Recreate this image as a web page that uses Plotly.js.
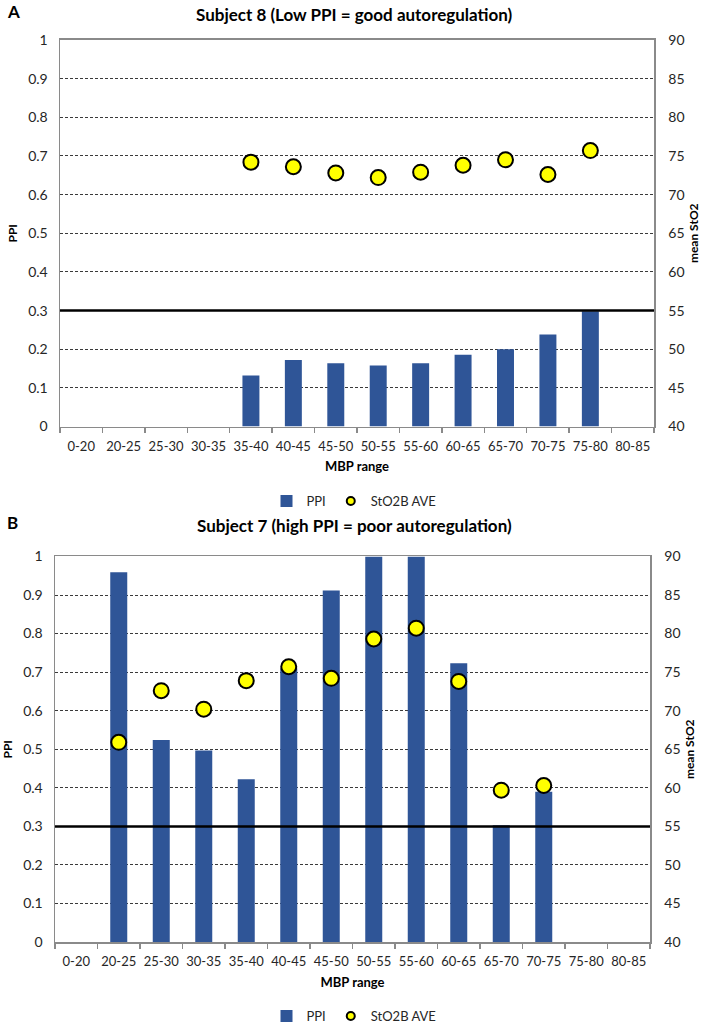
<!DOCTYPE html>
<html>
<head>
<meta charset="utf-8">
<script src="https://cdn.plot.ly/plotly-3.0.1.min.js"></script>
<style>html,body{margin:0;padding:0;background:#fff;}#chart{width:708px;height:1031px;}</style>
</head>
<body>
<div id="chart"></div>
<script>
// ---- data ----
const categories = ["0-20","20-25","25-30","30-35","35-40","40-45","45-50","50-55","55-60","60-65","65-70","70-75","75-80","80-85"];

const titleA = "Subject 8 (Low PPI = good autoregulation)";
const titleB = "Subject 7 (high PPI = poor autoregulation)";

const ppiA   = [null, null, null, null, 0.132, 0.172, 0.164, 0.158, 0.164, 0.186, 0.200, 0.238, 0.298, null];
const sto2A  = [null, null, null, null, 74.2, 73.6, 72.8, 72.2, 72.9, 73.8, 74.5, 72.6, 75.7, null];

const ppiB   = [null, 0.959, 0.524, 0.497, 0.422, 0.710, 0.912, 1.0, 1.0, 0.723, 0.303, 0.390, null, null];
const sto2B  = [null, 65.9, 72.6, 70.2, 73.9, 75.7, 74.2, 79.3, 80.7, 73.8, 59.7, 60.3, null, null];

const threshold = 0.3;
const seriesNames = ["PPI", "StO2B AVE"];
const ppiTicks = [0,0.1,0.2,0.3,0.4,0.5,0.6,0.7,0.8,0.9,1];
const ppiTickText = ["0","0.1","0.2","0.3","0.4","0.5","0.6","0.7","0.8","0.9","1"];
const sto2Ticks = [40,45,50,55,60,65,70,75,80,85,90];

// ---- style ----
const FONT = "Lato, 'Open Sans', sans-serif";
const BLUE = "#2F5597";
const YELLOW = "#FFFF00";
const AXC = "#8a8a8a";
const TXT = "#262626";
const W = 708, H = 1031;

function bars(y, xa, ya, lg){
  return {type:"bar", x:categories, y:y, name:seriesNames[0], xaxis:xa, yaxis:ya,
    marker:{color:BLUE}, width:0.4, showlegend:false, legend:lg, hoverinfo:"x+y"};
}
function dots(y, xa, ya, lg){
  return {type:"scatter", mode:"markers", x:categories, y:y, name:seriesNames[1], xaxis:xa, yaxis:ya,
    marker:{color:YELLOW, size:15, line:{color:"#000", width:2}}, showlegend:false, legend:lg, cliponaxis:false};
}
function legBar(lg, xa, ya){
  return {type:"bar", x:[null], y:[null], name:seriesNames[0], xaxis:xa, yaxis:ya, marker:{color:BLUE}, legend:lg, showlegend:true};
}
function legDot(lg, xa, ya){
  return {type:"scatter", mode:"markers", x:[null], y:[null], name:seriesNames[1], xaxis:xa, yaxis:ya,
    marker:{color:YELLOW, size:8, line:{color:"#000", width:2}}, legend:lg, showlegend:true};
}

const traces = [
  bars(ppiA, "x", "y", "legend"), dots(sto2A, "x", "y2", "legend"),
  legBar("legend","x","y"), legDot("legend","x","y2"),
  bars(ppiB, "x2", "y3", "legend2"), dots(sto2B, "x2", "y4", "legend2"),
  legBar("legend2","x2","y3"), legDot("legend2","x2","y4")
];

function xAxis(dom, anchor){
  return {domain:dom, anchor:anchor, type:"category", categoryarray:categories,
    range:[-0.5, categories.length-0.5], fixedrange:true, tickangle:0,
    showline:true, linecolor:AXC, linewidth:1.5, mirror:true,
    ticks:"outside", tickson:"boundaries", ticklen:5, tickcolor:AXC, tickwidth:1.5,
    ticklabelstandoff:7, showgrid:false, zeroline:false,
    tickfont:{family:FONT, size:13, color:TXT},
    title:{text:"MBP range", standoff:9, font:{family:FONT, size:13, color:"#000", weight:"bold"}}};
}
function yLeft(dom, anchor){
  return {domain:dom, anchor:anchor, range:[0,1], tickvals:ppiTicks, ticktext:ppiTickText,
    showline:true, linecolor:AXC, linewidth:1.5, ticks:"", zeroline:false,
    showgrid:true, gridcolor:"#3a3a3a", gridwidth:1, griddash:"3px,2px",
    ticklabelstandoff:8, tickfont:{family:FONT, size:14, color:TXT},
    title:{text:"PPI", standoff:8, font:{family:FONT, size:12, color:"#000", weight:"bold"}}};
}
function yRight(overlay, anchor){
  return {overlaying:overlay, anchor:anchor, side:"right", range:[40,90], tickvals:sto2Ticks,
    showline:true, linecolor:AXC, linewidth:1.5, ticks:"", zeroline:false, showgrid:false,
    ticklabelstandoff:10, tickfont:{family:FONT, size:14, color:TXT},
    title:{text:"mean StO2", standoff:6, font:{family:FONT, size:12, color:"#000", weight:"bold"}}};
}

const px = v => v / W;
const py = v => 1 - v / H;

const legendBase = {orientation:"h", xref:"paper", yref:"paper", x:0.5, xanchor:"center", yanchor:"middle",
  font:{family:FONT, size:13, color:TXT}, itemwidth:30,
  tracegroupgap:0, bgcolor:"rgba(0,0,0,0)"};

const layout = {
  width:W, height:H, margin:{l:0,r:0,t:0,b:0}, paper_bgcolor:"#fff", plot_bgcolor:"#fff",
  bargap:0.6, showlegend:true,
  xaxis: xAxis([px(60), px(654)], "y"),
  yaxis: yLeft([py(427), py(40)], "x"),
  yaxis2: yRight("y", "x"),
  xaxis2: xAxis([px(55), px(650)], "y3"),
  yaxis3: yLeft([py(943), py(557)], "x2"),
  yaxis4: yRight("y3", "x2"),
  legend: Object.assign({}, legendBase, {y:py(501)}),
  legend2: Object.assign({}, legendBase, {y:py(1017)}),
  shapes:[
    {type:"line", xref:"x domain", yref:"y", x0:0, x1:1, y0:threshold, y1:threshold, line:{color:"#000", width:2.5}},
    {type:"line", xref:"x2 domain", yref:"y3", x0:0, x1:1, y0:threshold, y1:threshold, line:{color:"#000", width:2.5}}
  ],
  annotations:[
    {text:"<b>"+titleA+"</b>", xref:"paper", yref:"paper", x:0.5, y:py(15), showarrow:false, xanchor:"center", yanchor:"middle", font:{family:FONT, size:17, color:"#000"}},
    {text:"<b>"+titleB+"</b>", xref:"paper", yref:"paper", x:0.5, y:py(526), showarrow:false, xanchor:"center", yanchor:"middle", font:{family:FONT, size:17, color:"#000"}},
    {text:"<b>A</b>", xref:"paper", yref:"paper", x:px(5), y:py(12), showarrow:false, xanchor:"left", yanchor:"middle", font:{family:FONT, size:17, color:"#000"}},
    {text:"<b>B</b>", xref:"paper", yref:"paper", x:px(5), y:py(523), showarrow:false, xanchor:"left", yanchor:"middle", font:{family:FONT, size:17, color:"#000"}}
  ]
};

Plotly.newPlot("chart", traces, layout, {staticPlot:true, displayModeBar:false});
</script>
</body>
</html>
